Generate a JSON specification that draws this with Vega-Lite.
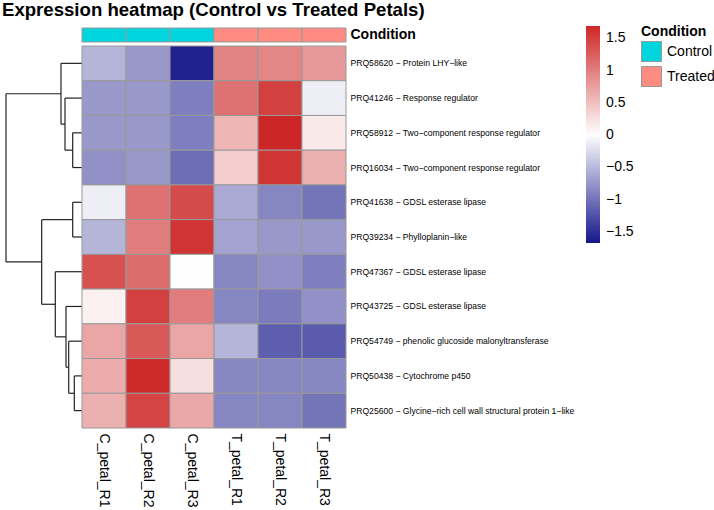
{
  "$schema": "https://vega.github.io/schema/vega-lite/v6.json",
  "padding": {"left": 1, "top": 1, "right": 0, "bottom": 0},
  "title": {"text": "Expression heatmap (Control vs Treated Petals)", "anchor": "start", "frame": "group", "fontSize": 18.6, "fontWeight": "bold", "font": "Liberation Sans", "color": "#000000", "offset": 5},
  "config": {"view": {"stroke": null}, "font": "Liberation Sans"},
  "bounds": "flush",
  "columns": 2,
  "spacing": {"row": 4, "column": 0},
  "resolve": {"scale": {"color": "independent", "fill": "independent", "x": "independent", "y": "independent"}},
  "datasets": {
    "ann": [
      {"sample": "C_petal_R1", "condition": "Control", "track": "Condition"},
      {"sample": "C_petal_R2", "condition": "Control", "track": "Condition"},
      {"sample": "C_petal_R3", "condition": "Control", "track": "Condition"},
      {"sample": "T_petal_R1", "condition": "Treated", "track": "Condition"},
      {"sample": "T_petal_R2", "condition": "Treated", "track": "Condition"},
      {"sample": "T_petal_R3", "condition": "Treated", "track": "Condition"}
    ],
    "dendro": [
      {"h1": 9.3, "h2": 9.3, "y1": 2.5, "y2": 3.5},
      {"h1": 17, "h2": 17, "y1": 1.5, "y2": 3.0},
      {"h1": 21, "h2": 21, "y1": 0.5, "y2": 2.25},
      {"h1": 9.3, "h2": 9.3, "y1": 4.5, "y2": 5.5},
      {"h1": 7.7, "h2": 7.7, "y1": 9.5, "y2": 10.5},
      {"h1": 13.3, "h2": 13.3, "y1": 8.5, "y2": 10.0},
      {"h1": 16, "h2": 16, "y1": 7.5, "y2": 9.25},
      {"h1": 26.7, "h2": 26.7, "y1": 6.5, "y2": 8.375},
      {"h1": 40.3, "h2": 40.3, "y1": 5.0, "y2": 7.4375},
      {"h1": 76, "h2": 76, "y1": 1.375, "y2": 6.21875},
      {"h1": 21, "h2": 0, "y1": 0.5, "y2": 0.5},
      {"h1": 17, "h2": 0, "y1": 1.5, "y2": 1.5},
      {"h1": 9.3, "h2": 0, "y1": 2.5, "y2": 2.5},
      {"h1": 9.3, "h2": 0, "y1": 3.5, "y2": 3.5},
      {"h1": 17, "h2": 9.3, "y1": 3.0, "y2": 3.0},
      {"h1": 21, "h2": 17, "y1": 2.25, "y2": 2.25},
      {"h1": 76, "h2": 21, "y1": 1.375, "y2": 1.375},
      {"h1": 9.3, "h2": 0, "y1": 4.5, "y2": 4.5},
      {"h1": 9.3, "h2": 0, "y1": 5.5, "y2": 5.5},
      {"h1": 40.3, "h2": 9.3, "y1": 5.0, "y2": 5.0},
      {"h1": 26.7, "h2": 0, "y1": 6.5, "y2": 6.5},
      {"h1": 16, "h2": 0, "y1": 7.5, "y2": 7.5},
      {"h1": 13.3, "h2": 0, "y1": 8.5, "y2": 8.5},
      {"h1": 7.7, "h2": 0, "y1": 9.5, "y2": 9.5},
      {"h1": 7.7, "h2": 0, "y1": 10.5, "y2": 10.5},
      {"h1": 13.3, "h2": 7.7, "y1": 10.0, "y2": 10.0},
      {"h1": 16, "h2": 13.3, "y1": 9.25, "y2": 9.25},
      {"h1": 26.7, "h2": 16, "y1": 8.375, "y2": 8.375},
      {"h1": 40.3, "h2": 26.7, "y1": 7.4375, "y2": 7.4375},
      {"h1": 76, "h2": 40.3, "y1": 6.21875, "y2": 6.21875}
    ],
    "expr": [
      {"gene": "PRQ58620 − Protein LHY−like", "sample": "C_petal_R1", "value": -0.52},
      {"gene": "PRQ58620 − Protein LHY−like", "sample": "C_petal_R2", "value": -0.73},
      {"gene": "PRQ58620 − Protein LHY−like", "sample": "C_petal_R3", "value": -1.6},
      {"gene": "PRQ58620 − Protein LHY−like", "sample": "T_petal_R1", "value": 0.97},
      {"gene": "PRQ58620 − Protein LHY−like", "sample": "T_petal_R2", "value": 0.95},
      {"gene": "PRQ58620 − Protein LHY−like", "sample": "T_petal_R3", "value": 0.8},
      {"gene": "PRQ41246 − Response regulator", "sample": "C_petal_R1", "value": -0.73},
      {"gene": "PRQ41246 − Response regulator", "sample": "C_petal_R2", "value": -0.73},
      {"gene": "PRQ41246 − Response regulator", "sample": "C_petal_R3", "value": -0.91},
      {"gene": "PRQ41246 − Response regulator", "sample": "T_petal_R1", "value": 1.11},
      {"gene": "PRQ41246 − Response regulator", "sample": "T_petal_R2", "value": 1.49},
      {"gene": "PRQ41246 − Response regulator", "sample": "T_petal_R3", "value": -0.11},
      {"gene": "PRQ58912 − Two−component response regulator", "sample": "C_petal_R1", "value": -0.73},
      {"gene": "PRQ58912 − Two−component response regulator", "sample": "C_petal_R2", "value": -0.73},
      {"gene": "PRQ58912 − Two−component response regulator", "sample": "C_petal_R3", "value": -0.91},
      {"gene": "PRQ58912 − Two−component response regulator", "sample": "T_petal_R1", "value": 0.58},
      {"gene": "PRQ58912 − Two−component response regulator", "sample": "T_petal_R2", "value": 1.69},
      {"gene": "PRQ58912 − Two−component response regulator", "sample": "T_petal_R3", "value": 0.18},
      {"gene": "PRQ16034 − Two−component response regulator", "sample": "C_petal_R1", "value": -0.78},
      {"gene": "PRQ16034 − Two−component response regulator", "sample": "C_petal_R2", "value": -0.73},
      {"gene": "PRQ16034 − Two−component response regulator", "sample": "C_petal_R3", "value": -1.04},
      {"gene": "PRQ16034 − Two−component response regulator", "sample": "T_petal_R1", "value": 0.4},
      {"gene": "PRQ16034 − Two−component response regulator", "sample": "T_petal_R2", "value": 1.58},
      {"gene": "PRQ16034 − Two−component response regulator", "sample": "T_petal_R3", "value": 0.62},
      {"gene": "PRQ41638 − GDSL esterase lipase", "sample": "C_petal_R1", "value": -0.11},
      {"gene": "PRQ41638 − GDSL esterase lipase", "sample": "C_petal_R2", "value": 1.11},
      {"gene": "PRQ41638 − GDSL esterase lipase", "sample": "C_petal_R3", "value": 1.41},
      {"gene": "PRQ41638 − GDSL esterase lipase", "sample": "T_petal_R1", "value": -0.6},
      {"gene": "PRQ41638 − GDSL esterase lipase", "sample": "T_petal_R2", "value": -0.86},
      {"gene": "PRQ41638 − GDSL esterase lipase", "sample": "T_petal_R3", "value": -0.99},
      {"gene": "PRQ39234 − Phylloplanin−like", "sample": "C_petal_R1", "value": -0.52},
      {"gene": "PRQ39234 − Phylloplanin−like", "sample": "C_petal_R2", "value": 1.02},
      {"gene": "PRQ39234 − Phylloplanin−like", "sample": "C_petal_R3", "value": 1.58},
      {"gene": "PRQ39234 − Phylloplanin−like", "sample": "T_petal_R1", "value": -0.65},
      {"gene": "PRQ39234 − Phylloplanin−like", "sample": "T_petal_R2", "value": -0.73},
      {"gene": "PRQ39234 − Phylloplanin−like", "sample": "T_petal_R3", "value": -0.73},
      {"gene": "PRQ47367 − GDSL esterase lipase", "sample": "C_petal_R1", "value": 1.36},
      {"gene": "PRQ47367 − GDSL esterase lipase", "sample": "C_petal_R2", "value": 1.14},
      {"gene": "PRQ47367 − GDSL esterase lipase", "sample": "C_petal_R3", "value": 0.02},
      {"gene": "PRQ47367 − GDSL esterase lipase", "sample": "T_petal_R1", "value": -0.86},
      {"gene": "PRQ47367 − GDSL esterase lipase", "sample": "T_petal_R2", "value": -0.78},
      {"gene": "PRQ47367 − GDSL esterase lipase", "sample": "T_petal_R3", "value": -0.91},
      {"gene": "PRQ43725 − GDSL esterase lipase", "sample": "C_petal_R1", "value": 0.12},
      {"gene": "PRQ43725 − GDSL esterase lipase", "sample": "C_petal_R2", "value": 1.49},
      {"gene": "PRQ43725 − GDSL esterase lipase", "sample": "C_petal_R3", "value": 1.02},
      {"gene": "PRQ43725 − GDSL esterase lipase", "sample": "T_petal_R1", "value": -0.86},
      {"gene": "PRQ43725 − GDSL esterase lipase", "sample": "T_petal_R2", "value": -0.94},
      {"gene": "PRQ43725 − GDSL esterase lipase", "sample": "T_petal_R3", "value": -0.78},
      {"gene": "PRQ54749 − phenolic glucoside malonyltransferase", "sample": "C_petal_R1", "value": 0.71},
      {"gene": "PRQ54749 − phenolic glucoside malonyltransferase", "sample": "C_petal_R2", "value": 1.3},
      {"gene": "PRQ54749 − phenolic glucoside malonyltransferase", "sample": "C_petal_R3", "value": 0.71},
      {"gene": "PRQ54749 − phenolic glucoside malonyltransferase", "sample": "T_petal_R1", "value": -0.52},
      {"gene": "PRQ54749 − phenolic glucoside malonyltransferase", "sample": "T_petal_R2", "value": -1.15},
      {"gene": "PRQ54749 − phenolic glucoside malonyltransferase", "sample": "T_petal_R3", "value": -1.17},
      {"gene": "PRQ50438 − Cytochrome p450", "sample": "C_petal_R1", "value": 0.65},
      {"gene": "PRQ50438 − Cytochrome p450", "sample": "C_petal_R2", "value": 1.66},
      {"gene": "PRQ50438 − Cytochrome p450", "sample": "C_petal_R3", "value": 0.26},
      {"gene": "PRQ50438 − Cytochrome p450", "sample": "T_petal_R1", "value": -0.86},
      {"gene": "PRQ50438 − Cytochrome p450", "sample": "T_petal_R2", "value": -0.86},
      {"gene": "PRQ50438 − Cytochrome p450", "sample": "T_petal_R3", "value": -0.86},
      {"gene": "PRQ25600 − Glycine−rich cell wall structural protein 1−like", "sample": "C_petal_R1", "value": 0.62},
      {"gene": "PRQ25600 − Glycine−rich cell wall structural protein 1−like", "sample": "C_petal_R2", "value": 1.46},
      {"gene": "PRQ25600 − Glycine−rich cell wall structural protein 1−like", "sample": "C_petal_R3", "value": 0.68},
      {"gene": "PRQ25600 − Glycine−rich cell wall structural protein 1−like", "sample": "T_petal_R1", "value": -0.86},
      {"gene": "PRQ25600 − Glycine−rich cell wall structural protein 1−like", "sample": "T_petal_R2", "value": -0.86},
      {"gene": "PRQ25600 − Glycine−rich cell wall structural protein 1−like", "sample": "T_petal_R3", "value": -0.99}
    ]
  },
  "concat": [
    {
      "width": 80,
      "height": 14,
      "data": {"values": [{}]},
      "mark": {"type": "rule", "opacity": 0},
      "encoding": {}
    },
    {
      "width": 264,
      "height": 14,
      "data": {"name": "ann"},
      "mark": {"type": "rect", "stroke": "#999999", "strokeWidth": 1},
      "encoding": {
        "x": {"field": "sample", "type": "nominal", "sort": null, "axis": null, "scale": {"paddingInner": 0, "paddingOuter": 0}},
        "y": {"field": "track", "type": "nominal", "scale": {"paddingInner": 0, "paddingOuter": 0}, "axis": {"orient": "right", "title": null, "ticks": false, "domain": false, "labelFontSize": 14, "labelFontWeight": "bold", "labelColor": "#000000", "labelPadding": 4}},
        "fill": {
          "field": "condition", "type": "nominal",
          "scale": {"domain": ["Control", "Treated"], "range": ["#00D5DD", "#FF8C82"]},
          "legend": {"orient": "none", "legendX": 559, "legendY": -3, "title": "Condition", "titleFontSize": 14, "titleFontWeight": "bold", "titleColor": "#000000", "titlePadding": 2, "labelFontSize": 14, "labelColor": "#000000", "labelOffset": 5, "symbolType": "square", "symbolSize": 400, "symbolStrokeColor": "#999999", "symbolStrokeWidth": 1, "symbolOpacity": 1, "rowPadding": 0}
        }
      }
    },
    {
      "width": 80,
      "height": 382,
      "data": {"name": "dendro"},
      "mark": {"type": "rule", "color": "#222222", "strokeWidth": 1.2},
      "encoding": {
        "x": {"field": "h1", "type": "quantitative", "scale": {"domain": [0, 80], "reverse": true, "nice": false, "zero": false}, "axis": null},
        "x2": {"field": "h2"},
        "y": {"field": "y1", "type": "quantitative", "scale": {"domain": [0, 11], "reverse": true, "nice": false, "zero": false}, "axis": null},
        "y2": {"field": "y2"}
      }
    },
    {
      "width": 264,
      "height": 382,
      "data": {"name": "expr"},
      "mark": {"type": "rect", "stroke": "#999999", "strokeWidth": 1},
      "encoding": {
        "x": {"field": "sample", "type": "nominal", "sort": null, "scale": {"paddingInner": 0, "paddingOuter": 0}, "axis": {"orient": "bottom", "title": null, "labelAngle": 90, "labelFontSize": 14, "labelColor": "#000000", "ticks": false, "domain": false, "labelPadding": 5}},
        "y": {"field": "gene", "type": "nominal", "sort": null, "scale": {"paddingInner": 0, "paddingOuter": 0}, "axis": {"orient": "right", "title": null, "ticks": false, "domain": false, "labelFontSize": 8.6, "labelColor": "#000000", "labelPadding": 4, "labelLimit": 0}},
        "color": {
          "field": "value", "type": "quantitative",
          "scale": {"domain": [-1.67, 0.01, 1.69], "range": ["#16168A", "#FFFFFF", "#CD2626"], "interpolate": "rgb", "nice": false, "zero": false},
          "legend": {"orient": "none", "legendX": 504, "legendY": -20, "title": null, "direction": "vertical", "gradientLength": 217, "gradientThickness": 14, "values": [-1.5, -1, -0.5, 0, 0.5, 1, 1.5], "format": ".1~f", "labelOverlap": false, "labelFontSize": 14, "labelColor": "#000000", "labelOffset": 6}
        }
      }
    }
  ]
}
